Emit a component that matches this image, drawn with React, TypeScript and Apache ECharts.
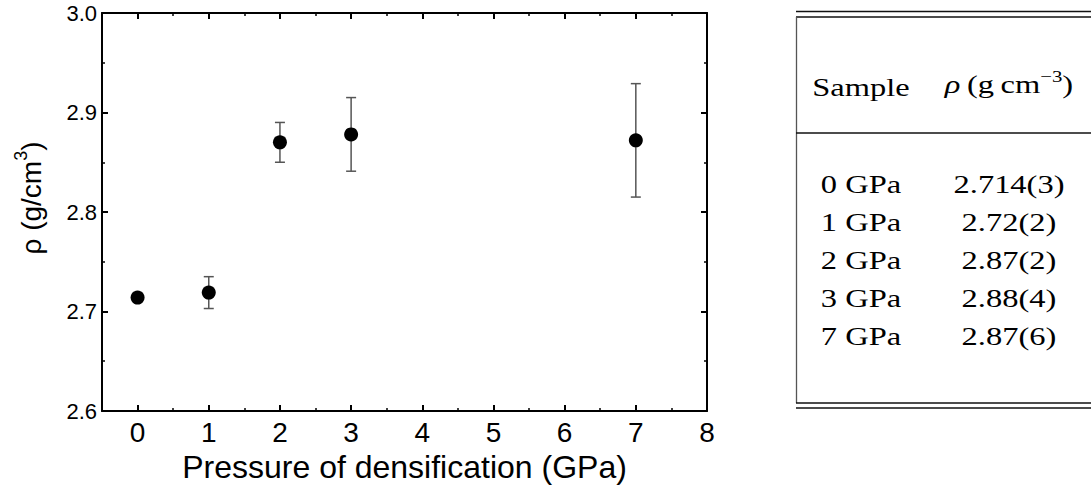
import React, { useEffect, useRef } from 'react';
import * as echarts from 'echarts';

// ---- data ----
const pressures = [0, 1, 2, 3, 7];
const densities = [2.714, 2.719, 2.87, 2.878, 2.872];
const errors = [0.003, 0.016, 0.02, 0.037, 0.057];

const sampleLabels = ['0 GPa', '1 GPa', '2 GPa', '3 GPa', '7 GPa'];
const densityLabels = ['2.714(3)', '2.72(2)', '2.87(2)', '2.88(4)', '2.87(6)'];

const xTitle = 'Pressure of densification (GPa)';
const yTitle = 'ρ (g/cm{sup|3})';
const headerSample = 'Sample';
const headerDensity = '{i|ρ}\u2009(g\u2009cm{sup|−3})';

const SANS = '"Liberation Sans", Arial, sans-serif';
const SERIF = '"Liberation Serif", "DejaVu Serif", serif';

export default function App() {
  const ref = useRef<HTMLDivElement>(null);

  useEffect(() => {
    if (!ref.current) return;
    const chart = echarts.init(ref.current, undefined, { renderer: 'svg' });

    const axisLineStyle = { color: '#000', width: 2 };
    const commonX = {
      type: 'value',
      min: -0.5,
      max: 8,
      minInterval: 1,
      maxInterval: 1,
      splitLine: { show: false },
      axisLine: { show: true, onZero: false, lineStyle: axisLineStyle },
      axisTick: { show: true, inside: true, length: 6, lineStyle: { color: '#000', width: 2 } },
      minorTick: { show: true, splitNumber: 2, length: 3, lineStyle: { color: '#000', width: 1.5 } },
    };
    const commonY = {
      type: 'value',
      min: 2.6,
      max: 3.0,
      interval: 0.1,
      splitLine: { show: false },
      axisLine: { show: true, onZero: false, lineStyle: axisLineStyle },
      axisTick: { show: true, inside: true, length: 6, lineStyle: { color: '#000', width: 2 } },
      minorTick: { show: true, splitNumber: 2, length: 3, lineStyle: { color: '#000', width: 1.5 } },
    };

    const tableX0 = 796;
    const tableX1 = 1091;
    const lineStyle = { stroke: '#111', lineWidth: 1.3 };
    const colSampleX = 861;
    const colDensX = 1009;
    const rowY = [184, 222, 260, 298, 336];
    const textScale = 1.3;
    const fs = 25;

    const graphics: any[] = [
      { type: 'line', shape: { x1: tableX0, y1: 11.5, x2: tableX1, y2: 11.5 }, style: lineStyle },
      { type: 'line', shape: { x1: tableX0, y1: 17, x2: tableX1, y2: 17 }, style: lineStyle },
      { type: 'line', shape: { x1: tableX0 + 0.5, y1: 17, x2: tableX0 + 0.5, y2: 403 }, style: { stroke: '#555', lineWidth: 1.3 } },
      { type: 'line', shape: { x1: tableX0, y1: 133, x2: tableX1, y2: 133 }, style: lineStyle },
      { type: 'line', shape: { x1: tableX0, y1: 403, x2: tableX1, y2: 403 }, style: lineStyle },
      { type: 'line', shape: { x1: tableX0, y1: 408, x2: tableX1, y2: 408 }, style: lineStyle },
      {
        type: 'text',
        x: 31,
        y: 198,
        rotation: Math.PI / 2,
        style: {
          text: yTitle,
          fill: '#000',
          fontFamily: SANS,
          fontSize: 28,
          textAlign: 'center',
          textVerticalAlign: 'middle',
          lineHeight: 38,
          rich: {
            sup: { fontSize: 18, fontFamily: SANS, fill: '#000', lineHeight: 18, verticalAlign: 'top' },
          },
        },
      },
      {
        type: 'text',
        x: colSampleX,
        y: 87,
        scaleX: textScale,
        style: {
          text: headerSample,
          fill: '#000',
          fontFamily: SERIF,
          fontSize: fs,
          textAlign: 'center',
          textVerticalAlign: 'middle',
        },
      },
      {
        type: 'text',
        x: colDensX,
        y: 84,
        scaleX: textScale,
        style: {
          text: headerDensity,
          fill: '#000',
          fontFamily: SERIF,
          fontSize: fs,
          lineHeight: 32,
          textAlign: 'center',
          textVerticalAlign: 'middle',
          rich: {
            i: { fontStyle: 'italic', fontFamily: SERIF, fontSize: fs, lineHeight: 32, fill: '#000' },
            sup: { fontFamily: SERIF, fontSize: 16, lineHeight: 16, verticalAlign: 'top', fill: '#000' },
          },
        },
      },
    ];
    sampleLabels.forEach((s, i) => {
      graphics.push({
        type: 'text',
        x: colSampleX,
        y: rowY[i],
        scaleX: textScale,
        style: { text: s, fill: '#000', fontFamily: SERIF, fontSize: fs, textAlign: 'center', textVerticalAlign: 'middle' },
      });
      graphics.push({
        type: 'text',
        x: colDensX,
        y: rowY[i],
        scaleX: textScale,
        style: { text: densityLabels[i], fill: '#000', fontFamily: SERIF, fontSize: fs, textAlign: 'center', textVerticalAlign: 'middle' },
      });
    });

    chart.setOption({
      animation: false,
      backgroundColor: '#fff',
      grid: { left: 102, right: 384, top: 13, bottom: 72, containLabel: false },
      xAxis: [
        {
          ...commonX,
          position: 'bottom',
          axisLabel: {
            show: true,
            fontSize: 28,
            fontFamily: SANS,
            color: '#000',
            margin: 7,
            formatter: (v: number) => (Number.isInteger(v) ? String(v) : ''),
          },
          name: xTitle,
          nameLocation: 'middle',
          nameGap: 40,
          nameTextStyle: { fontSize: 32, fontFamily: SANS, color: '#000' },
        },
        { ...commonX, position: 'top', axisLabel: { show: false } },
      ],
      yAxis: [
        {
          ...commonY,
          position: 'left',
          axisLabel: {
            show: true,
            fontSize: 22,
            fontFamily: SANS,
            color: '#000',
            margin: 5,
            formatter: (v: number) => v.toFixed(1),
          },
        },
        { ...commonY, position: 'right', axisLabel: { show: false } },
      ],
      series: [
        {
          type: 'custom',
          name: 'error',
          xAxisIndex: 0,
          yAxisIndex: 0,
          z: 2,
          encode: { x: 0, y: [1, 2] },
          data: pressures.map((p, i) => [p, densities[i] - errors[i], densities[i] + errors[i]]),
          renderItem: (params: any, api: any) => {
            const x = api.value(0);
            const lo = api.coord([x, api.value(1)]);
            const hi = api.coord([x, api.value(2)]);
            const w = 5;
            const style = { stroke: '#555', lineWidth: 1.5, fill: 'none' };
            return {
              type: 'group',
              children: [
                { type: 'line', shape: { x1: lo[0], y1: lo[1], x2: hi[0], y2: hi[1] }, style },
                { type: 'line', shape: { x1: lo[0] - w, y1: lo[1], x2: lo[0] + w, y2: lo[1] }, style },
                { type: 'line', shape: { x1: hi[0] - w, y1: hi[1], x2: hi[0] + w, y2: hi[1] }, style },
              ],
            };
          },
        },
        {
          type: 'scatter',
          name: 'density',
          xAxisIndex: 0,
          yAxisIndex: 0,
          z: 3,
          symbol: 'circle',
          symbolSize: 14,
          itemStyle: { color: '#000', opacity: 1 },
          data: pressures.map((p, i) => [p, densities[i]]),
        },
      ],
      graphic: graphics,
    });

    return () => chart.dispose();
  }, []);

  return (
    <div
      ref={ref}
      style={{ position: 'fixed', left: 0, top: 0, width: 1091, height: 488, background: '#fff' }}
    />
  );
}
